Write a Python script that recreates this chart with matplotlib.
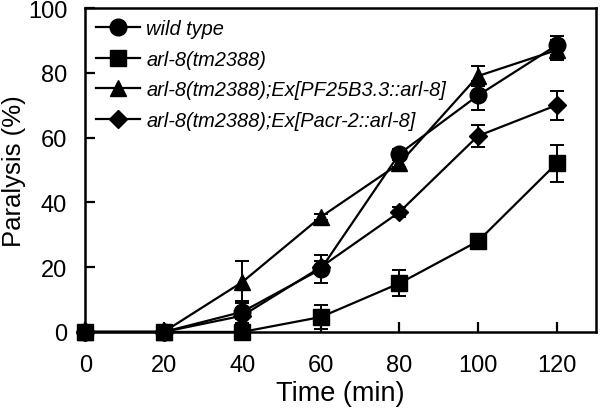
import matplotlib
matplotlib.use('Agg')
import matplotlib.pyplot as plt

plt.rcParams['font.family'] = ['Liberation Sans', 'DejaVu Sans']

time = [0, 20, 40, 60, 80, 100, 120]

labels = ['wild type',
          'arl-8(tm2388)',
          'arl-8(tm2388);Ex[PF25B3.3::arl-8]',
          'arl-8(tm2388);Ex[Pacr-2::arl-8]']
markers = ['o', 's', '^', 'D']

wt = [0, 0, 6.2, 19.4, 55, 73, 88.5]
wt_err = [0, 0, 3.5, 4.2, 1.5, 4.5, 3]
mut = [0, 0, 0, 4.6, 15, 28, 52]
mut_err = [0, 0, 0, 3.7, 4, 1, 5.7]
pf25 = [0, 0, 15.4, 35.5, 52, 79, 87]
pf25_err = [0, 0, 6.5, 1, 1, 3, 3]
pacr = [0, 0, 5, 20, 37, 60.5, 70]
pacr_err = [0, 0, 1, 2, 1.5, 3.5, 4.5]

series = [(wt, wt_err), (mut, mut_err), (pf25, pf25_err), (pacr, pacr_err)]

fig = plt.figure(figsize=(6, 4.1), dpi=100)
ax = fig.add_axes([0.142, 0.188, 0.851, 0.79])

handles = []
for (vals, errs), lab, m in zip(series, labels, markers):
    ms = {'o': 12, 's': 11, '^': 11.5, 'D': 9.5}[m]
    ax.errorbar(time, vals, yerr=errs, fmt='none', ecolor='black',
                elinewidth=1.4, capsize=5, capthick=1.4, clip_on=False, zorder=2)
    h, = ax.plot(time, vals, color='black', marker=m, markersize=ms,
                 linewidth=1.6, label=lab, clip_on=False, zorder=3)
    handles.append(h)

ax.set_xlim(0, 130)
ax.set_ylim(0, 100)
ax.set_xticks(time)
ax.set_yticks([0, 20, 40, 60, 80, 100])
ax.tick_params(direction='in', labelsize=17, width=1.6, length=7)
ax.tick_params(axis='x', pad=16)
ax.tick_params(axis='y', pad=13)
for s in ax.spines.values():
    s.set_linewidth(1.8)

ax.set_xlabel('Time (min)', fontsize=19.5, labelpad=3)
ax.set_ylabel('Paralysis (%)', fontsize=18.5)
ax.yaxis.set_label_coords(-0.116, 0.5)

leg = ax.legend(handles=handles, loc='upper left', frameon=False, fontsize=14.4,
                handlelength=2.2, handletextpad=0.3, labelspacing=0.58,
                borderaxespad=0.15, bbox_to_anchor=(0.0, 1.0))
for t in leg.get_texts():
    t.set_style('italic')

plt.savefig('out.png', dpi=100)
